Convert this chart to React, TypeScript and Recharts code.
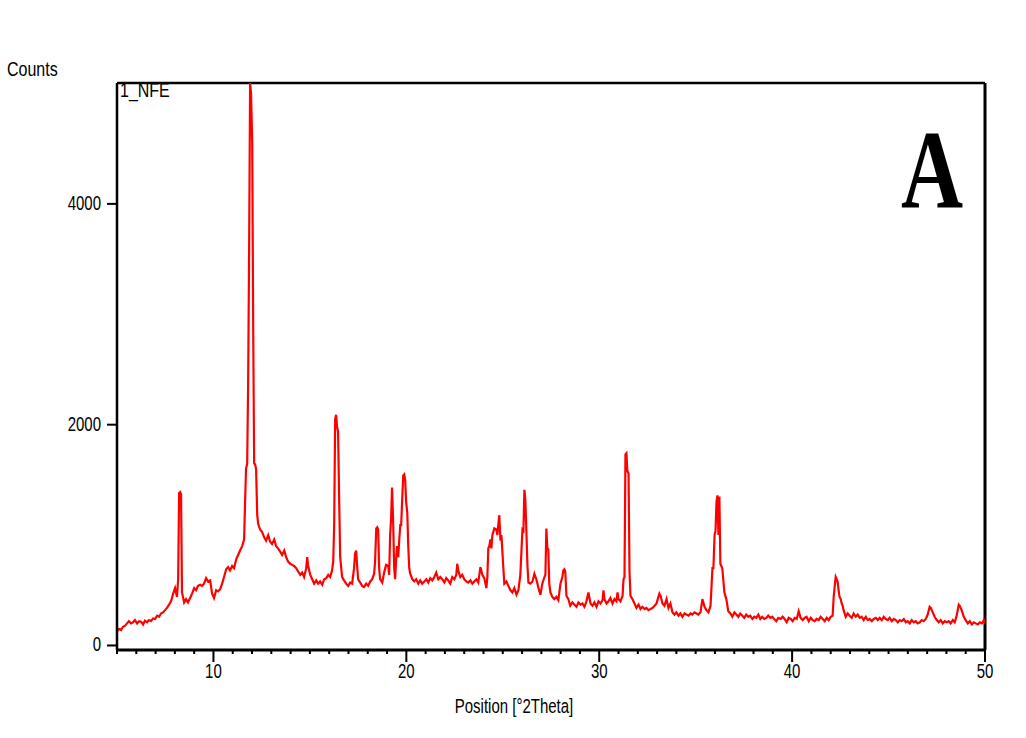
import { Line, LineChart, ReferenceLine, XAxis, YAxis } from "recharts";

// XRD scan, [2theta, counts]
const SCAN_5_10: [number, number][] = [
  [5.0, 130], [5.1, 150], [5.21, 140], [5.31, 170], [5.42, 180], [5.52, 200],
  [5.62, 220], [5.73, 200], [5.83, 210], [5.93, 230], [6.04, 200], [6.14, 220],
  [6.25, 215], [6.35, 190], [6.45, 225], [6.56, 210], [6.66, 230], [6.76, 220],
  [6.87, 245], [6.97, 240], [7.08, 270], [7.18, 260], [7.28, 290], [7.39, 300],
  [7.49, 320], [7.59, 340], [7.7, 370], [7.8, 400], [7.91, 470], [8.01, 520],
  [8.11, 440], [8.17, 600], [8.22, 1380], [8.27, 1390], [8.32, 1370], [8.37, 480],
  [8.48, 390], [8.58, 420], [8.68, 390], [8.79, 430], [8.89, 470], [9.0, 520],
  [9.1, 500], [9.2, 540], [9.31, 550], [9.41, 540], [9.51, 560], [9.62, 610],
  [9.72, 580], [9.83, 590], [9.93, 470],
];

const SCAN_10_15: [number, number][] = [
  [10.03, 430], [10.14, 500], [10.24, 490], [10.35, 510], [10.45, 560],
  [10.55, 620], [10.66, 690], [10.76, 710], [10.86, 680], [10.97, 720],
  [11.07, 700], [11.18, 780], [11.28, 820], [11.38, 860], [11.49, 900],
  [11.59, 960], [11.64, 1300], [11.69, 1600], [11.75, 1650], [11.8, 2400],
  [11.85, 3600], [11.9, 5095], [11.95, 5000], [12.01, 4550], [12.06, 2900],
  [12.11, 1650], [12.16, 1640], [12.21, 1600], [12.27, 1180], [12.32, 1100],
  [12.42, 1050], [12.52, 1030], [12.63, 980], [12.73, 950], [12.84, 1000],
  [12.94, 940], [13.04, 920], [13.15, 960], [13.25, 900], [13.35, 880],
  [13.46, 850], [13.56, 820], [13.67, 860], [13.77, 800], [13.87, 760],
  [13.98, 740], [14.08, 730], [14.18, 720], [14.29, 700], [14.39, 670],
  [14.5, 640], [14.6, 660], [14.7, 620], [14.81, 700], [14.86, 800],
  [14.91, 720],
];

const SCAN_15_20: [number, number][] = [
  [15.02, 640], [15.12, 600], [15.22, 560], [15.33, 590], [15.43, 560],
  [15.53, 580], [15.64, 550], [15.74, 600], [15.85, 610], [15.95, 640],
  [16.05, 620], [16.15, 680], [16.21, 760], [16.26, 1100], [16.31, 2050],
  [16.36, 2090], [16.41, 1980], [16.46, 1940], [16.52, 1300], [16.57, 800],
  [16.67, 620], [16.77, 590], [16.88, 560], [16.98, 540], [17.09, 570],
  [17.19, 560], [17.29, 700], [17.34, 830], [17.4, 860], [17.45, 720],
  [17.5, 600], [17.61, 570], [17.71, 540], [17.81, 530], [17.92, 560],
  [18.02, 540], [18.13, 580], [18.23, 600], [18.33, 650], [18.38, 760],
  [18.44, 1060], [18.49, 1070], [18.54, 1050], [18.59, 700], [18.64, 600],
  [18.75, 570], [18.85, 660], [18.95, 730], [19.06, 720], [19.11, 640],
  [19.16, 1000], [19.21, 1150], [19.26, 1430], [19.32, 1100], [19.37, 700],
  [19.42, 600], [19.47, 780], [19.52, 900], [19.58, 800], [19.63, 950],
  [19.69, 1100], [19.73, 1080], [19.78, 1300], [19.84, 1540], [19.89, 1550],
  [19.94, 1500], [19.99, 1300],
];

const SCAN_20_25: [number, number][] = [
  [20.05, 1200], [20.1, 900], [20.15, 700], [20.2, 650], [20.31, 600],
  [20.41, 580], [20.51, 600], [20.62, 560], [20.72, 590], [20.82, 560],
  [20.93, 580], [21.04, 600], [21.14, 570], [21.24, 610], [21.35, 590],
  [21.45, 620], [21.55, 660], [21.66, 600], [21.76, 620], [21.86, 600],
  [21.97, 570], [22.07, 610], [22.17, 590], [22.28, 560], [22.38, 620],
  [22.49, 600], [22.59, 640], [22.64, 740], [22.69, 680], [22.8, 620],
  [22.9, 640], [23.0, 600], [23.11, 580], [23.21, 570], [23.32, 590],
  [23.42, 560], [23.52, 580], [23.63, 600], [23.73, 570], [23.84, 710],
  [23.94, 640], [24.04, 610], [24.15, 520], [24.2, 620], [24.25, 880],
  [24.3, 900], [24.36, 960], [24.41, 880], [24.46, 1000], [24.56, 1060],
  [24.67, 1050], [24.72, 1000], [24.77, 1100], [24.82, 1180], [24.88, 950],
  [24.93, 1000], [24.98, 850],
];

const SCAN_25_30: [number, number][] = [
  [25.03, 700], [25.08, 560], [25.19, 580], [25.29, 540], [25.4, 500],
  [25.5, 480], [25.6, 520], [25.71, 460], [25.81, 500], [25.91, 640],
  [26.02, 1050], [26.07, 1040], [26.12, 1410], [26.17, 1320], [26.23, 1000],
  [26.28, 720], [26.33, 570], [26.43, 560], [26.54, 580], [26.64, 650],
  [26.74, 600], [26.85, 520], [26.95, 460], [27.05, 560], [27.16, 620],
  [27.21, 640], [27.26, 1060], [27.31, 880], [27.36, 870], [27.41, 560],
  [27.47, 480], [27.57, 440], [27.67, 420], [27.78, 440], [27.88, 410],
  [27.99, 560], [28.09, 620], [28.14, 680], [28.19, 690], [28.24, 670],
  [28.3, 450], [28.4, 420], [28.5, 360], [28.61, 390], [28.71, 370],
  [28.82, 350], [28.92, 390], [29.03, 370], [29.13, 380], [29.23, 350],
  [29.34, 400], [29.44, 480], [29.55, 380], [29.65, 360], [29.75, 390],
  [29.86, 350], [29.96, 400],
];

const SCAN_30_35: [number, number][] = [
  [30.07, 380], [30.17, 410], [30.22, 500], [30.27, 420], [30.38, 380],
  [30.48, 400], [30.58, 430], [30.69, 380], [30.79, 420], [30.89, 400],
  [30.95, 480], [31.0, 420], [31.1, 400], [31.21, 450], [31.26, 600],
  [31.31, 620], [31.36, 1730], [31.41, 1740], [31.46, 1580], [31.52, 1560],
  [31.57, 670], [31.62, 450], [31.72, 420], [31.83, 380], [31.93, 340],
  [32.04, 370], [32.14, 330], [32.24, 350], [32.35, 330], [32.45, 340],
  [32.55, 320], [32.66, 330], [32.76, 340], [32.87, 360], [32.97, 380],
  [33.07, 440], [33.12, 470], [33.18, 450], [33.28, 380], [33.38, 360],
  [33.49, 420], [33.59, 340], [33.69, 380], [33.8, 300], [33.9, 280],
  [34.0, 300], [34.11, 270], [34.21, 290], [34.31, 260], [34.42, 290],
  [34.52, 280], [34.63, 270], [34.73, 290], [34.83, 280], [34.94, 300],
];

const SCAN_35_40: [number, number][] = [
  [35.04, 290], [35.14, 280], [35.25, 300], [35.35, 420], [35.46, 350],
  [35.56, 320], [35.66, 300], [35.77, 360], [35.87, 700], [35.92, 700],
  [35.98, 1000], [36.03, 1040], [36.08, 1300], [36.13, 1360], [36.18, 1000],
  [36.23, 1350], [36.28, 740], [36.33, 720], [36.38, 700], [36.43, 600],
  [36.49, 480], [36.59, 420], [36.69, 310], [36.8, 290], [36.9, 260],
  [37.01, 300], [37.11, 280], [37.21, 260], [37.31, 290], [37.42, 270],
  [37.52, 250], [37.62, 280], [37.73, 260], [37.83, 270], [37.94, 240],
  [38.04, 260], [38.14, 250], [38.25, 280], [38.35, 240], [38.45, 260],
  [38.56, 240], [38.66, 250], [38.76, 270], [38.87, 250], [38.97, 260],
  [39.07, 240], [39.18, 220], [39.28, 250], [39.41, 240], [39.51, 260],
  [39.61, 240], [39.72, 210], [39.82, 250], [39.93, 240],
];

const SCAN_40_45: [number, number][] = [
  [40.03, 220], [40.13, 250], [40.24, 240], [40.34, 310], [40.44, 250],
  [40.55, 230], [40.65, 250], [40.75, 260], [40.86, 220], [40.96, 250],
  [41.07, 230], [41.17, 220], [41.27, 240], [41.38, 230], [41.48, 260],
  [41.59, 240], [41.69, 220], [41.79, 250], [41.9, 230], [42.0, 260],
  [42.1, 270], [42.16, 450], [42.21, 540], [42.26, 620], [42.31, 600],
  [42.36, 580], [42.41, 500], [42.46, 440], [42.52, 420], [42.57, 380],
  [42.62, 360], [42.67, 320], [42.78, 260], [42.88, 290], [42.98, 270],
  [43.09, 250], [43.19, 290], [43.3, 260], [43.4, 280], [43.51, 250],
  [43.61, 260], [43.71, 230], [43.82, 260], [43.92, 230], [44.02, 240],
  [44.13, 220], [44.23, 240], [44.34, 250], [44.44, 230], [44.54, 250],
  [44.65, 230], [44.75, 260], [44.85, 240], [44.96, 230],
];

const SCAN_45_50: [number, number][] = [
  [45.06, 250], [45.17, 220], [45.27, 240], [45.37, 230], [45.48, 210],
  [45.58, 230], [45.68, 220], [45.79, 240], [45.89, 210], [45.99, 220],
  [46.1, 200], [46.2, 230], [46.31, 210], [46.41, 220], [46.51, 200],
  [46.62, 210], [46.72, 230], [46.82, 220], [46.93, 240], [47.03, 280],
  [47.13, 350], [47.19, 340], [47.29, 300], [47.39, 260], [47.5, 230],
  [47.6, 210], [47.7, 230], [47.81, 200], [47.91, 220], [48.02, 210],
  [48.12, 220], [48.22, 200], [48.33, 230], [48.43, 210], [48.53, 270],
  [48.64, 370], [48.69, 360], [48.79, 320], [48.9, 260], [49.0, 230],
  [49.11, 200], [49.21, 220], [49.32, 190], [49.42, 210], [49.52, 200],
  [49.63, 190], [49.73, 210], [49.84, 200], [49.94, 230], [50.0, 200],
];

const X_TICKS = [
  5, 6, 7, 8, 9, 10, 11, 12, 13, 14, 15, 16, 17, 18, 19, 20, 21, 22, 23, 24,
  25, 26, 27, 28, 29, 30, 31, 32, 33, 34, 35, 36, 37, 38, 39, 40, 41, 42, 43,
  44, 45, 46, 47, 48, 49, 50,
];
const X_LABELS = [10, 20, 30, 40, 50];
const Y_TICKS = [0, 2000, 4000];
const X_DOMAIN: [number, number] = [5, 50];
const Y_DOMAIN: [number, number] = [-41, 5095];

const scan = [
  ...SCAN_5_10, ...SCAN_10_15, ...SCAN_15_20, ...SCAN_20_25, ...SCAN_25_30,
  ...SCAN_30_35, ...SCAN_35_40, ...SCAN_40_45, ...SCAN_45_50,
].map(([theta, counts]) => ({ theta, counts }));

const FONT = "'Liberation Sans', Arial, sans-serif";
// the source image is stretched vertically, so text gets a scaleY too
const STRETCH = 1.3;

function XTick({ x, y, payload }: any) {
  const major = X_LABELS.includes(payload.value);
  return (
    <g>
      <line x1={x} x2={x} y1={y} y2={y + (major ? 12 : 4)} stroke="#000" strokeWidth={2} />
      {major && (
        <text
          transform={`translate(${x},${y + 28}) scale(1,${STRETCH})`}
          textAnchor="middle"
          fontSize={15}
          fontFamily={FONT}
          fill="#000"
        >
          {payload.value}
        </text>
      )}
    </g>
  );
}

function YTick({ x, y, payload }: any) {
  return (
    <g>
      <line x1={x - 10} x2={x} y1={y} y2={y} stroke="#000" strokeWidth={2} />
      <text
        transform={`translate(${x - 16},${y + 6}) scale(1,${STRETCH})`}
        textAnchor="end"
        fontSize={15}
        fontFamily={FONT}
        fill="#000"
      >
        {payload.value}
      </text>
    </g>
  );
}

export default function App() {
  return (
    <div style={{ position: "absolute", left: 0, top: 0, width: 1026, height: 738, background: "#fff" }}>
      <LineChart
        width={1026}
        height={738}
        data={scan}
        margin={{ top: 83, right: 41, bottom: 0, left: 0 }}
      >
        <XAxis
          dataKey="theta"
          type="number"
          domain={X_DOMAIN}
          ticks={X_TICKS}
          interval={0}
          height={88}
          tickSize={0}
          tickMargin={0}
          tickLine={false}
          tick={<XTick />}
          axisLine={{ stroke: "#000", strokeWidth: 3 }}
          allowDataOverflow
        />
        <YAxis
          type="number"
          domain={Y_DOMAIN}
          ticks={Y_TICKS}
          width={117}
          tickSize={0}
          tickMargin={0}
          tickLine={false}
          tick={<YTick />}
          axisLine={{ stroke: "#000", strokeWidth: 2.5 }}
          allowDataOverflow
        />
        {/* frame: top and right edges of the plot box */}
        <ReferenceLine y={Y_DOMAIN[1]} stroke="#000" strokeWidth={2.5} ifOverflow="visible" />
        <ReferenceLine x={X_DOMAIN[1]} stroke="#000" strokeWidth={3} ifOverflow="visible" />
        <Line
          dataKey="counts"
          type="linear"
          stroke="#ff0000"
          strokeWidth={2.2}
          dot={false}
          isAnimationActive={false}
        />
      </LineChart>
      <svg
        width={1026}
        height={738}
        style={{ position: "absolute", left: 0, top: 0, pointerEvents: "none" }}
      >
        <text transform={`translate(7,76) scale(1,${STRETCH})`} fontSize={16} fontFamily={FONT} fill="#000">
          Counts
        </text>
        <text transform={`translate(120,97) scale(1,${STRETCH})`} fontSize={16} fontFamily={FONT} fill="#000">
          1_NFE
        </text>
        <text
          transform={`translate(514,713) scale(1,${STRETCH})`}
          textAnchor="middle"
          fontSize={15}
          fontFamily={FONT}
          fill="#000"
        >
          Position [°2Theta]
        </text>
        <text
          transform={`translate(901,208) scale(1,${STRETCH})`}
          fontSize={86}
          fontWeight="bold"
          fontFamily="'Liberation Serif', 'Times New Roman', serif"
          fill="#000"
        >
          A
        </text>
      </svg>
    </div>
  );
}
